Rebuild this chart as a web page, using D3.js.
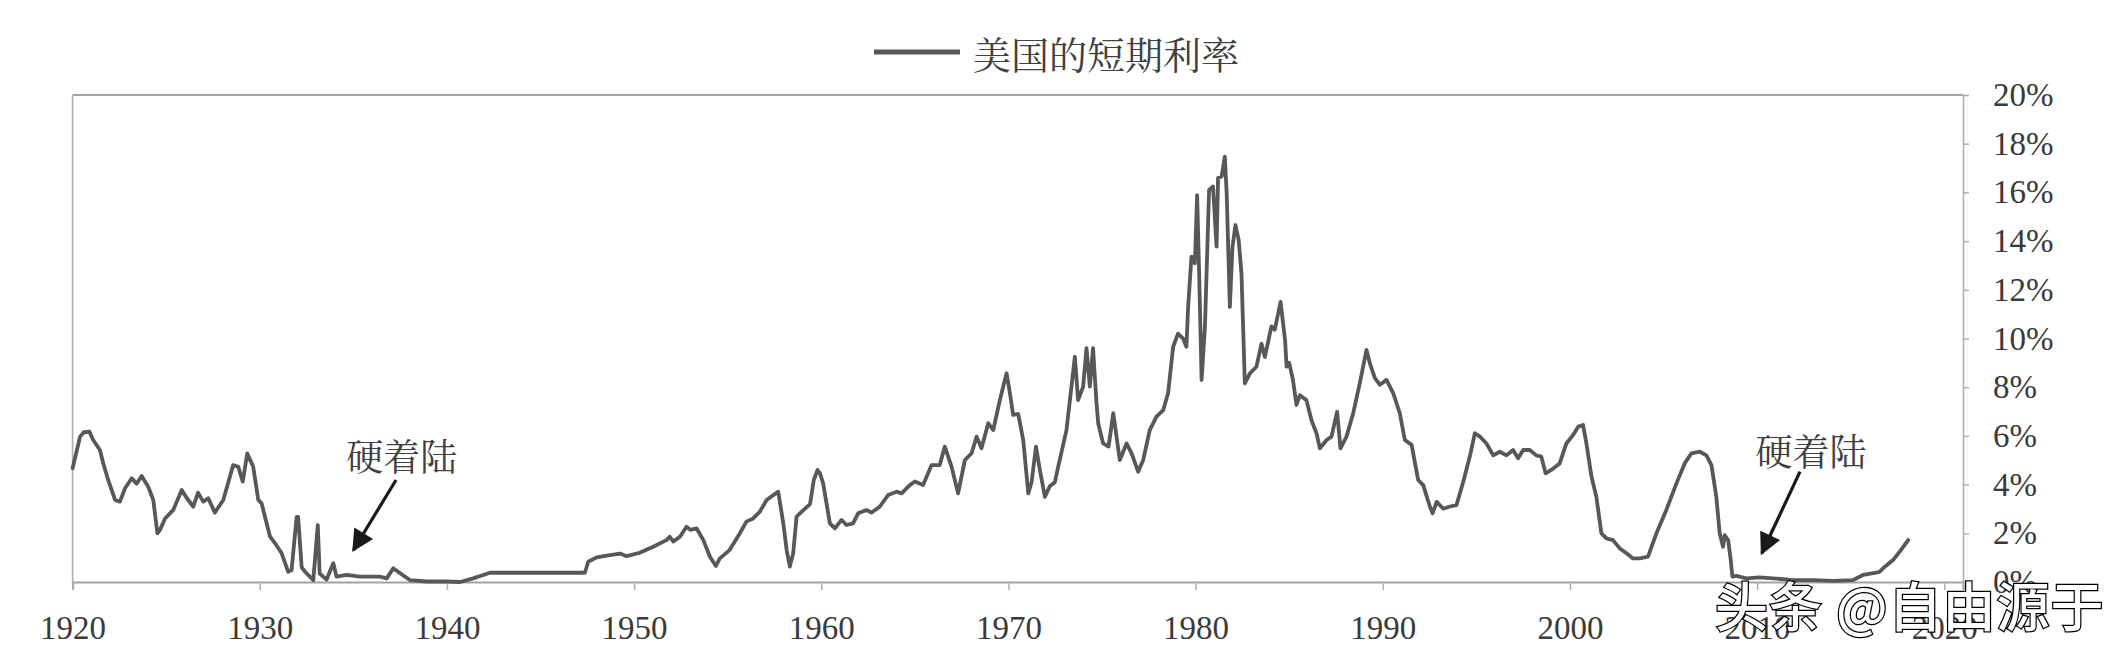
<!DOCTYPE html>
<html>
<head>
<meta charset="utf-8">
<script src="https://cdn.jsdelivr.net/npm/d3@7/dist/d3.min.js"></script>
<style>
  html, body { margin: 0; padding: 0; background: #fff; }
  svg { display: block; }
</style>
</head>
<body>
<svg id="chart" width="2128" height="658"></svg>
<script>
// ---- data ----
const seriesName = "美国的短期利率";
const years = [
  1920.0,1920.4,1920.6,1920.9,1921.1,1921.46,1921.64,1921.9,1922.27,1922.53,1922.8,1923.16,1923.42,1923.69,
  1924.04,1924.31,1924.53,1924.67,1924.94,1925.38,1925.83,1926.1,1926.45,1926.7,1926.98,1927.25,1927.6,1928.05,
  1928.58,1928.85,1929.09,1929.33,1929.65,1929.92,1930.1,1930.28,1930.55,1930.81,1931.17,1931.52,1931.7,1931.97,
  1932.05,1932.24,1932.42,1932.86,1933.1,1933.2,1933.57,1933.93,1934.1,1934.64,1935.35,1936.4,1936.78,1937.13,
  1937.5,1938.02,1938.9,1940.0,1940.7,1941.4,1941.94,1942.3,1947.37,1947.55,1948.0,1948.7,1949.25,1949.6,
  1950.3,1951.02,1951.73,1951.9,1952.1,1952.45,1952.8,1953.0,1953.34,1953.7,1954.05,1954.37,1954.58,1955.1,
  1955.65,1956.0,1956.36,1956.72,1957.08,1957.7,1957.97,1958.15,1958.32,1958.5,1958.68,1958.86,1959.4,1959.6,
  1959.8,1959.93,1960.1,1960.28,1960.46,1960.73,1961.08,1961.35,1961.7,1961.97,1962.42,1962.68,1963.13,1963.57,
  1964.02,1964.29,1964.73,1965.0,1965.44,1965.89,1966.33,1966.6,1966.96,1967.31,1967.67,1968.03,1968.3,1968.56,
  1968.92,1969.19,1969.54,1969.9,1970.08,1970.25,1970.52,1970.79,1971.06,1971.24,1971.47,1971.68,1971.95,1972.21,
  1972.48,1972.66,1973.1,1973.55,1973.72,1973.99,1974.17,1974.35,1974.52,1974.7,1974.8,1975.06,1975.35,1975.6,
  1975.95,1976.31,1976.58,1976.93,1977.2,1977.55,1977.91,1978.27,1978.53,1978.8,1979.06,1979.33,1979.51,1979.6,
  1979.78,1979.96,1980.08,1980.19,1980.32,1980.5,1980.72,1980.93,1981.12,1981.2,1981.39,1981.56,1981.66,1981.83,
  1981.97,1982.13,1982.3,1982.45,1982.63,1982.9,1983.25,1983.52,1983.7,1984.05,1984.23,1984.54,1984.78,1984.86,
  1985.0,1985.2,1985.39,1985.57,1985.92,1986.19,1986.46,1986.64,1987.0,1987.26,1987.56,1987.74,1988.06,1988.42,
  1988.77,1989.13,1989.31,1989.58,1989.85,1990.2,1990.56,1990.91,1991.18,1991.54,1991.89,1992.16,1992.52,1992.66,
  1992.88,1993.23,1993.59,1993.94,1994.3,1994.65,1994.92,1995.19,1995.54,1995.9,1996.25,1996.61,1996.96,1997.23,
  1997.5,1997.85,1998.2,1998.47,1998.7,1999.0,1999.45,1999.81,2000.17,2000.44,2000.7,2000.88,2001.15,2001.41,
  2001.68,2001.95,2002.3,2002.66,2003.02,2003.37,2003.73,2004.17,2004.62,2005.15,2005.69,2006.13,2006.49,2006.94,
  2007.29,2007.56,2007.82,2008.0,2008.18,2008.27,2008.45,2008.57,2008.68,2008.9,2009.43,2010.14,2010.85,2011.92,
  2012.99,2014.06,2015.13,2015.66,2016.2,2016.55,2016.82,2017.26,2017.62,2018.07
];
const rates = [
  4.67,5.97,6.15,6.17,5.83,5.42,4.87,4.19,3.37,3.3,3.85,4.26,4.04,4.35,
  3.91,3.37,2.0,2.14,2.61,2.96,3.78,3.45,3.09,3.67,3.3,3.44,2.85,3.37,
  4.8,4.73,4.12,5.28,4.73,3.37,3.23,2.67,1.86,1.6,1.18,0.42,0.49,2.67,
  2.67,0.6,0.42,0.08,2.34,0.35,0.1,0.77,0.22,0.29,0.22,0.22,0.15,0.56,
  0.36,0.08,0.02,0.02,0.0,0.15,0.29,0.38,0.38,0.83,1.01,1.1,1.17,1.06,
  1.2,1.45,1.72,1.86,1.66,1.86,2.27,2.14,2.2,1.72,1.04,0.66,0.97,1.31,
  2.0,2.48,2.61,2.89,3.37,3.71,2.41,1.31,0.63,1.18,2.68,2.82,3.2,4.19,
  4.6,4.46,4.05,3.23,2.41,2.2,2.55,2.34,2.41,2.82,2.96,2.85,3.1,3.57,
  3.71,3.64,3.98,4.13,3.98,4.8,4.8,5.56,4.74,3.64,5.0,5.29,5.97,5.49,
  6.52,6.24,7.47,8.57,7.75,6.86,6.9,5.83,3.64,4.11,5.56,4.6,3.5,3.93,
  4.1,4.74,6.24,9.25,7.47,8.02,9.6,8.02,9.6,7.4,6.5,5.69,5.56,6.93,
  5.01,5.69,5.28,4.53,5.01,6.24,6.79,7.06,7.75,9.66,10.2,10.0,9.66,11.3,
  13.36,13.09,15.89,12.68,8.3,10.5,16.1,16.24,13.77,16.6,16.65,17.47,15.96,11.3,
  13.77,14.66,14.05,12.68,8.16,8.57,8.84,9.79,9.24,10.5,10.36,11.5,9.93,8.84,
  9.0,8.3,7.27,7.67,7.47,6.65,6.11,5.49,5.83,5.97,6.99,5.49,5.97,6.93,
  8.16,9.53,8.98,8.37,8.1,8.3,7.75,6.93,5.83,5.63,4.19,3.98,3.09,2.82,
  3.29,3.01,3.1,3.16,4.12,5.15,6.11,5.97,5.69,5.2,5.35,5.2,5.42,5.08,
  5.42,5.42,5.2,5.15,4.46,4.6,4.87,5.69,6.04,6.38,6.45,5.69,4.33,3.5,
  2.0,1.79,1.72,1.38,1.18,0.97,0.97,1.04,2.0,2.96,4.05,4.87,5.28,5.35,
  5.2,4.8,3.5,2.0,1.45,1.92,1.72,1.04,0.22,0.25,0.15,0.19,0.15,0.08,
  0.08,0.05,0.08,0.29,0.36,0.42,0.63,0.9,1.25,1.72
];
const xTicks = [1920,1930,1940,1950,1960,1970,1980,1990,2000,2010,2020];
const yTicks = [0,2,4,6,8,10,12,14,16,18,20];
const annLabels = ["硬着陆","硬着陆"];
const annTextYear = [1937.58, 2012.88];
const annTextRate = [5.2, 5.42];
const annTailYear = [1937.28, 2012.29];
const annTailRate = [4.19, 4.53];
const annTipYear  = [1935.0, 2010.25];
const annTipRate  = [1.31, 1.18];
const watermark = "头条 @自由源于";

// ---- layout ----
const svg = d3.select("#chart");
const L = 72.6, R = 1963, T = 95, B = 582;
const x = d3.scaleLinear().domain([1920, 2021]).range([L, R]);
const y = d3.scaleLinear().domain([0, 20]).range([B, T]);

svg.append("rect").attr("width", 2128).attr("height", 658).attr("fill", "#fff");

const serif = "'Liberation Serif','Times New Roman','DejaVu Serif',serif";
const cjk = "'Noto Serif CJK SC','Noto Sans CJK SC',sans-serif";

// frame
svg.append("line").attr("x1", L).attr("x2", R).attr("y1", T).attr("y2", T)
  .attr("stroke", "#a3a3a3").attr("stroke-width", 2.2);
svg.append("line").attr("x1", L).attr("x2", L).attr("y1", T).attr("y2", B)
  .attr("stroke", "#b0b0b0").attr("stroke-width", 1.6);

// x axis
const xAxis = svg.append("g").attr("transform", `translate(0,${B})`)
  .call(d3.axisBottom(x).tickValues(xTicks).tickFormat(d3.format("d")).tickSize(8).tickPadding(26));
xAxis.select(".domain").attr("stroke", "#a3a3a3").attr("stroke-width", 2.2);
xAxis.selectAll(".tick line").attr("stroke", "#b0b0b0").attr("stroke-width", 1.5);
xAxis.selectAll("text").attr("font-family", serif).attr("font-size", 33).attr("fill", "#3a3a3a");

// y axis (right)
const yAxis = svg.append("g").attr("transform", `translate(${R},0)`)
  .call(d3.axisRight(y).tickValues(yTicks).tickFormat(d => d + "%").tickSize(6).tickPadding(24));
yAxis.select(".domain").attr("stroke", "#b0b0b0").attr("stroke-width", 1.6);
yAxis.selectAll(".tick line").attr("stroke", "#b0b0b0").attr("stroke-width", 1.5);
yAxis.selectAll("text").attr("font-family", serif).attr("font-size", 33).attr("fill", "#3a3a3a");

// series line
const pts = years.map((yr, i) => [yr, rates[i]]);
svg.append("path").datum(pts)
  .attr("fill", "none").attr("stroke", "#585858").attr("stroke-width", 3.8)
  .attr("stroke-linejoin", "round").attr("stroke-linecap", "round")
  .attr("d", d3.line().x(d => x(d[0])).y(d => y(d[1])));

// legend
svg.append("line").attr("x1", 874).attr("x2", 960).attr("y1", 52).attr("y2", 52)
  .attr("stroke", "#585858").attr("stroke-width", 5);
svg.append("text").attr("x", 973).attr("y", 52).attr("dominant-baseline", "central")
  .attr("font-family", cjk).attr("font-size", 38).attr("fill", "#404040").text(seriesName);

// annotations
const defs = svg.append("defs");
defs.append("marker").attr("id", "ah").attr("viewBox", "0 0 10 10")
  .attr("refX", 9).attr("refY", 5).attr("markerUnits", "userSpaceOnUse")
  .attr("markerWidth", 26).attr("markerHeight", 22).attr("orient", "auto")
  .append("path").attr("d", "M0,0 L10,5 L0,10 Z").attr("fill", "#1a1a1a");

annLabels.forEach((lab, i) => {
  svg.append("line")
    .attr("x1", x(annTailYear[i])).attr("y1", y(annTailRate[i]))
    .attr("x2", x(annTipYear[i])).attr("y2", y(annTipRate[i]))
    .attr("stroke", "#1a1a1a").attr("stroke-width", 3.2).attr("marker-end", "url(#ah)");
  svg.append("text").attr("x", x(annTextYear[i])).attr("y", y(annTextRate[i]))
    .attr("text-anchor", "middle").attr("dominant-baseline", "central")
    .attr("font-family", cjk).attr("font-size", 37).attr("fill", "#404040").text(lab);
});

// watermark (overlays the bottom-right labels, as in the reference)
svg.append("text").attr("x", 1715).attr("y", 627)
  .attr("font-family", "'Noto Sans CJK SC',sans-serif").attr("font-size", 53).attr("font-weight", 500)
  .attr("fill", "#fff").attr("stroke", "#000").attr("stroke-width", 2.5)
  .attr("paint-order", "stroke").attr("letter-spacing", 1).text(watermark);
</script>
</body>
</html>
